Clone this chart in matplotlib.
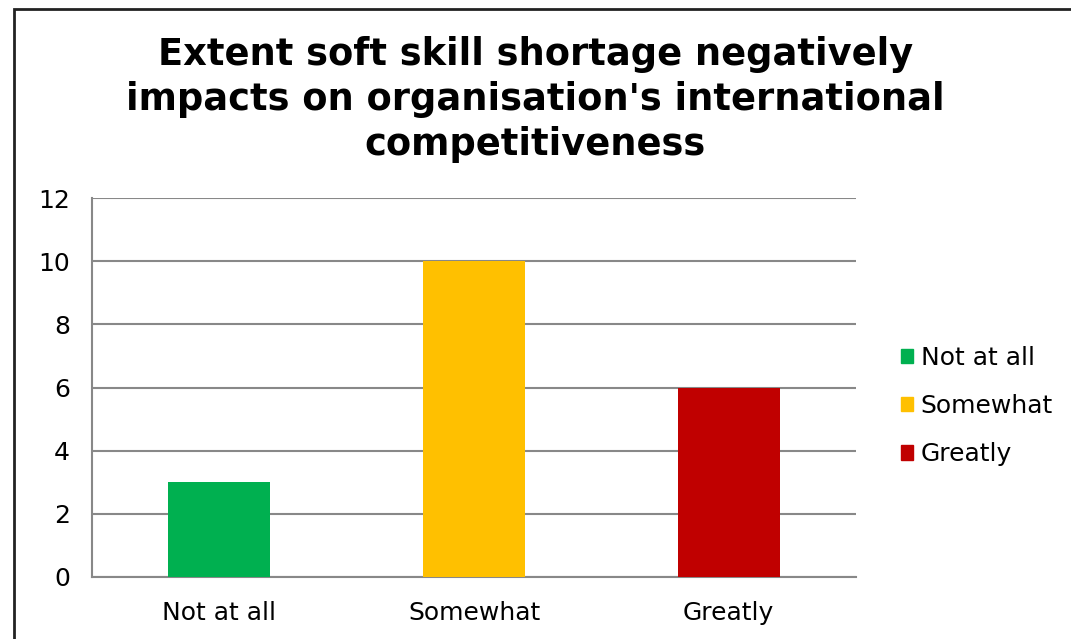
import matplotlib.pyplot as plt
from matplotlib.patches import Rectangle, Patch

categories = ["Not at all", "Somewhat", "Greatly"]
counts = [3, 10, 6]
colors = ["#00B050", "#FFC000", "#C00000"]
yticks = [0, 2, 4, 6, 8, 10, 12]

fig = plt.figure(figsize=(10.71, 6.39), dpi=100)
ax = fig.add_axes([92 / 1071, 1 - 577 / 639, (856 - 92) / 1071, (577 - 198) / 639])

x = range(len(categories))
ax.bar(x, counts, width=0.4, color=colors, zorder=3)

ax.set_xlim(-0.5, 2.5)
ax.set_ylim(0, 12)
ax.set_yticks(yticks)
ax.set_xticks(list(x))
ax.set_xticklabels(categories)
ax.tick_params(length=0, labelsize=18, pad=17)
ax.tick_params(axis="y", pad=16)
ax.yaxis.grid(True, color="#888888", linewidth=1.5, zorder=0)
for side in ("top", "right"):
    ax.spines[side].set_visible(False)
for side in ("left", "bottom"):
    ax.spines[side].set_color("#888888")
    ax.spines[side].set_linewidth(1.5)

fig.suptitle("Extent soft skill shortage negatively\nimpacts on organisation's international\ncompetitiveness",
             fontsize=26.5, fontweight="bold", y=0.943, linespacing=1.26)

handles = [Patch(color=c, label=l) for c, l in zip(colors, categories)]
fig.legend(handles=handles, loc="center left", bbox_to_anchor=(0.82, 1 - 406 / 639),
           frameon=False, fontsize=18, handlelength=0.5, handleheight=0.5,
           handletextpad=0.3, labelspacing=0.97)

# outer chart frame (only left and top edges fall inside the image)
fig.patches.append(Rectangle((14 / 1071, -0.1), 1.2, 1 - 9 / 639 + 0.1, transform=fig.transFigure,
                             fill=False, edgecolor="#222222", linewidth=2))

fig.savefig("out.png", dpi=100)
